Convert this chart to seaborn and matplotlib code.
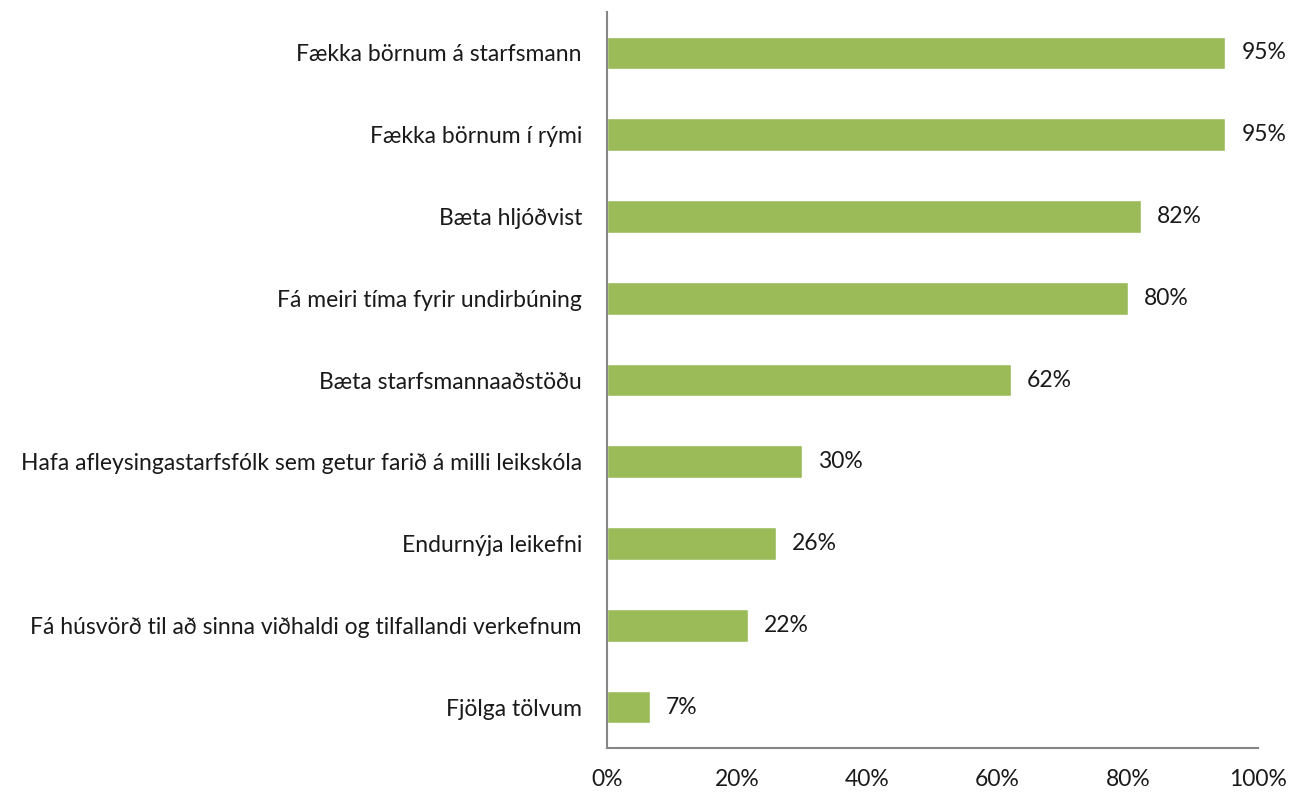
import matplotlib
matplotlib.use("Agg")
from matplotlib import pyplot as plt
from matplotlib.ticker import PercentFormatter
import pandas as pd
import seaborn as sns

categories = [
    "Fækka börnum á starfsmann",
    "Fækka börnum í rými",
    "Bæta hljóðvist",
    "Fá meiri tíma fyrir undirbúning",
    "Bæta starfsmannaaðstöðu",
    "Hafa afleysingastarfsfólk sem getur farið á milli leikskóla",
    "Endurnýja leikefni",
    "Fá húsvörð til að sinna viðhaldi og tilfallandi verkefnum",
    "Fjölga tölvum",
]
shares = [0.95, 0.95, 0.82, 0.80, 0.62, 0.30, 0.26, 0.217, 0.066]
value_labels = ["95%", "95%", "82%", "80%", "62%", "30%", "26%", "22%", "7%"]
x_ticks = [0, 0.2, 0.4, 0.6, 0.8, 1.0]

sns.set_style("white")
plt.rcParams["font.family"] = ["Lato", "DejaVu Sans"]

df = pd.DataFrame({"item": categories, "share": shares})

fig = plt.figure(figsize=(13, 7.92), dpi=100)
ax = fig.add_axes([0.4669, 0.0556, 0.5008, 0.9292])

sns.barplot(data=df, x="share", y="item", orient="h", color="#9BBB59",
            saturation=1, width=0.40, ax=ax)

for patch, lbl in zip(ax.patches, value_labels):
    ax.annotate(lbl, (patch.get_width(), patch.get_y() + patch.get_height() / 2),
                xytext=(16, 0), textcoords="offset pixels",
                va="center", ha="left", fontsize=16.5, color="#1a1a1a")

ax.set_xlim(0, 1.0)
ax.set_ylim(8.5, -0.5)
ax.set_xticks(x_ticks)
ax.xaxis.set_major_formatter(PercentFormatter(1.0, decimals=0))
ax.set_xlabel("")
ax.set_ylabel("")
ax.tick_params(axis="x", length=0, pad=15, labelsize=16.5, labelcolor="#1a1a1a")
ax.tick_params(axis="y", length=0, pad=18, labelsize=16.5, labelcolor="#1a1a1a")

for side in ["top", "right"]:
    ax.spines[side].set_visible(False)
for side in ["left", "bottom"]:
    ax.spines[side].set_color("#868686")
    ax.spines[side].set_linewidth(1.5)

fig.savefig("out.png", dpi=100)
